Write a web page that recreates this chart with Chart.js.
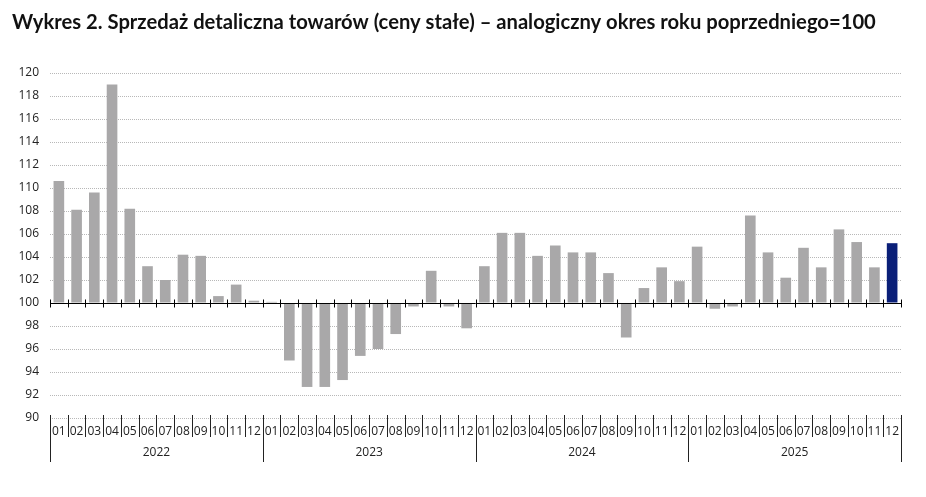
<!DOCTYPE html>
<html><head><meta charset="utf-8">
<script src="https://cdn.jsdelivr.net/npm/chart.js@4"></script>
<style>html,body{margin:0;padding:0;background:#fff}#wrap{width:926px;height:497px;position:relative}</style>
</head><body><div id="wrap"><canvas id="c"></canvas></div>
<script>
const titleText = "Wykres 2. Sprzedaż detaliczna towarów (ceny stałe) – analogiczny okres roku poprzedniego=100";
const years = ["2022", "2023", "2024", "2025"];
const months = ["01","02","03","04","05","06","07","08","09","10","11","12"];
const v2022 = [110.6, 108.1, 109.6, 119.0, 108.2, 103.2, 102.0, 104.2, 104.1, 100.6, 101.6, 100.2];
const v2023 = [100.1, 95.0, 92.7, 92.7, 93.3, 95.4, 96.0, 97.3, 99.7, 102.8, 99.7, 97.8];
const v2024 = [103.2, 106.1, 106.1, 104.1, 105.0, 104.4, 104.4, 102.6, 97.0, 101.3, 103.1, 101.9];
const v2025 = [104.9, 99.5, 99.7, 107.6, 104.4, 102.2, 104.8, 103.1, 106.4, 105.3, 103.1, 105.2];
const yTicks = [90, 92, 94, 96, 98, 100, 102, 104, 106, 108, 110, 112, 114, 116, 118, 120];
const baseValue = 100;

const values = [...v2022, ...v2023, ...v2024, ...v2025];
const labels = years.flatMap(() => months);
const colors = values.map((_, i) => i === values.length - 1 ? '#0a1f78' : '#a9a8a9');

// fit title font to the reference width
const TITLE_FONT = 'Lato';
const mctx = document.createElement('canvas').getContext('2d');
mctx.font = `bold 20px ${TITLE_FONT}`;
const titleSize = Math.min(22, 20 * 864 / mctx.measureText(titleText).width);

const axisPlugin = {
  id: 'axisDecor',
  afterDatasetsDraw(chart) {
    const { ctx, scales: { x, y }, chartArea } = chart;
    const n = labels.length;
    const step = x.getPixelForValue(1) - x.getPixelForValue(0);
    const bnd = i => i < n ? x.getPixelForValue(i) - step / 2 : x.getPixelForValue(n - 1) + step / 2;
    const yp = Math.round(y.getPixelForValue(baseValue)) + 0.5;
    ctx.save();
    ctx.strokeStyle = '#000';
    ctx.lineWidth = 1;
    ctx.beginPath();
    ctx.moveTo(chartArea.left, yp);
    ctx.lineTo(bnd(n), yp);
    for (let i = 0; i <= n; i++) {
      const xp = Math.round(bnd(i)) + 0.5;
      ctx.moveTo(xp, yp - 4);
      ctx.lineTo(xp, yp + 4);
    }
    ctx.stroke();
    const yb = Math.round(y.getPixelForValue(90));
    ctx.strokeStyle = '#222';
    ctx.beginPath();
    for (let i = 0; i <= n; i++) {
      const xp = Math.round(bnd(i)) + 0.5;
      ctx.moveTo(xp, yb - 3);
      ctx.lineTo(xp, i % 12 === 0 ? yb + 44 : yb + 19);
    }
    ctx.stroke();
    ctx.restore();
  }
};

new Chart(document.getElementById('c'), {
  type: 'bar',
  data: {
    labels: labels,
    datasets: [{
      data: values,
      base: baseValue,
      backgroundColor: colors,
      borderWidth: 0,
      barPercentage: 0.6,
      categoryPercentage: 1.0
    }]
  },
  plugins: [axisPlugin],
  options: {
    responsive: true,
    maintainAspectRatio: false,
    animation: false,
    layout: { padding: { left: 12, right: 25, top: 0, bottom: 22 } },
    plugins: {
      legend: { display: false },
      tooltip: { enabled: false },
      title: {
        display: true,
        text: titleText,
        align: 'start',
        color: '#111',
        font: { family: TITLE_FONT, size: titleSize, weight: 'bold' },
        padding: { top: 22 - titleSize * 0.6, bottom: 73 - (22 - titleSize * 0.6) - titleSize * 1.2 }
      }
    },
    scales: {
      x: {
        type: 'category',
        offset: true,
        grid: { display: false, drawTicks: false },
        border: { display: false },
        ticks: {
          autoSkip: false, maxRotation: 0, minRotation: 0, padding: 6,
          color: '#222', font: { family: 'Open Sans', size: 12 }
        },
        afterFit(s) { s.height = 24; }
      },
      x2: {
        type: 'category',
        labels: years,
        position: 'bottom',
        offset: true,
        grid: { display: false, drawTicks: false },
        border: { display: false },
        ticks: {
          autoSkip: false, maxRotation: 0, minRotation: 0, padding: 3,
          color: '#222', font: { family: 'Open Sans', size: 12 }
        },
        afterFit(s) { s.height = 33; }
      },
      y: {
        min: 90, max: 120,
        afterBuildTicks(s) { s.ticks = yTicks.map(v => ({ value: v })); },
        grid: { color: '#b8b8b8', lineWidth: 1, drawTicks: false },
        border: { display: false, dash: [1, 1] },
        ticks: { padding: 11, color: '#222', font: { family: 'Open Sans', size: 12 } },
        afterFit(s) { s.width = 38; }
      }
    }
  }
});
</script>
</body></html>
